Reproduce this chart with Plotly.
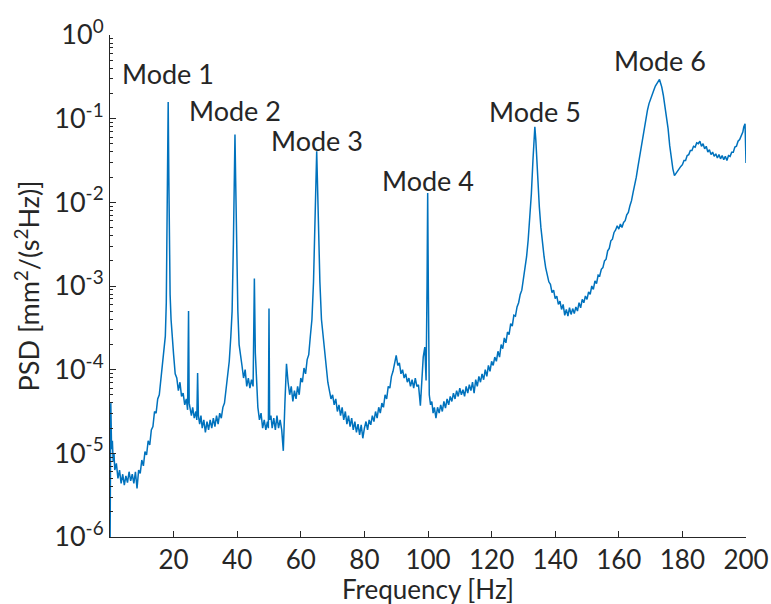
import numpy as np
import plotly.graph_objects as go

# Frequency samples (Hz)
freq_hz = [
    0.0, 0.25, 0.5, 0.75, 1.0, 1.25, 1.5, 2.0, 2.5, 3.0,
    3.5, 4.0, 4.5, 5.0, 5.5, 6.0, 6.5, 7.0, 7.5, 8.0,
    8.5, 9.0, 9.5, 10.0, 10.5, 11.0, 11.5, 12.0, 12.5, 13.0,
    13.5, 14.0, 14.5, 15.0, 15.5, 16.0, 16.5, 17.0, 17.4, 17.7,
    17.9, 18.1, 18.3, 18.5, 18.7, 18.9, 19.2, 19.5, 20.0, 20.5,
    21.0, 21.5, 22.0, 22.5, 23.0, 23.5, 24.0, 24.4, 24.7, 24.9,
    25.2, 25.6, 26.0, 26.5, 27.0, 27.3, 27.55, 27.8, 28.2, 28.6,
    29.0, 29.5, 30.0, 30.5, 31.0, 31.5, 32.0, 32.5, 33.0, 33.5,
    34.0, 34.5, 35.0, 35.5, 36.0, 36.5, 37.0, 37.5, 38.0, 38.4,
    38.8, 39.1, 39.3, 39.5, 39.8, 40.2, 40.6, 41.0, 41.5, 42.0,
    42.5, 43.0, 43.5, 44.0, 44.5, 45.0, 45.4, 45.7, 46.0, 46.5,
    47.0, 47.5, 48.0, 48.5, 49.0, 49.5, 49.8, 50.0, 50.2, 50.6,
    51.0, 51.5, 52.0, 52.5, 53.0, 53.5, 54.0, 54.5, 55.0, 55.5,
    56.0, 56.5, 57.0, 57.5, 58.0, 58.5, 59.0, 59.5, 60.0, 60.5,
    61.0, 61.5, 62.0, 62.5, 63.0, 63.5, 64.0, 64.4, 64.8, 65.0,
    65.2, 65.6, 66.0, 66.5, 67.0, 67.5, 68.0, 68.5, 69.0, 69.5,
    70.0, 70.5, 71.0, 71.5, 72.0, 72.5, 73.0, 73.5, 74.0, 74.5,
    75.0, 75.5, 76.0, 76.5, 77.0, 77.5, 78.0, 78.5, 79.0, 79.5,
    80.0, 80.5, 81.0, 81.5, 82.0, 82.5, 83.0, 83.5, 84.0, 84.5,
    85.0, 85.5, 86.0, 86.5, 87.0, 87.5, 88.0, 88.5, 89.0, 89.5,
    90.0, 90.5, 91.0, 91.5, 92.0, 92.5, 93.0, 93.5, 94.0, 94.5,
    95.0, 95.5, 96.0, 96.5, 97.0, 97.6, 98.0, 98.5, 99.0, 99.4,
    99.7, 99.9, 100.1, 100.4, 100.8, 101.2, 101.6, 102.0, 102.5, 103.0,
    103.5, 104.0, 104.5, 105.0, 105.5, 106.0, 106.5, 107.0, 107.5, 108.0,
    108.5, 109.0, 109.5, 110.0, 110.5, 111.0, 111.5, 112.0, 112.5, 113.0,
    113.5, 114.0, 114.5, 115.0, 115.5, 116.0, 116.5, 117.0, 117.5, 118.0,
    118.5, 119.0, 119.5, 120.0, 120.5, 121.0, 121.5, 122.0, 122.5, 123.0,
    123.5, 124.0, 124.5, 125.0, 125.5, 126.0, 126.5, 127.0, 127.5, 128.0,
    128.5, 129.0, 129.5, 130.0, 130.5, 131.0, 131.5, 132.0, 132.5, 133.0,
    133.3, 133.6, 133.9, 134.2, 134.6, 135.0, 135.5, 136.0, 136.5, 137.0,
    137.5, 138.0, 138.5, 139.0, 139.5, 140.0, 140.5, 141.0, 141.5, 142.0,
    142.5, 143.0, 143.5, 144.0, 144.5, 145.0, 145.5, 146.0, 146.5, 147.0,
    147.5, 148.0, 148.5, 149.0, 149.5, 150.0, 150.5, 151.0, 151.5, 152.0,
    152.5, 153.0, 153.5, 154.0, 154.5, 155.0, 155.5, 156.0, 156.5, 157.0,
    157.5, 158.0, 158.5, 159.0, 159.5, 160.0, 160.5, 161.0, 161.5, 162.0,
    162.5, 163.0, 163.5, 164.0, 164.5, 165.0, 165.5, 166.0, 166.5, 167.0,
    167.5, 168.0, 168.5, 169.0, 169.5, 170.0, 170.5, 171.0, 171.5, 172.0,
    172.5, 172.8, 173.1, 173.5, 174.0, 174.5, 175.0, 175.5, 176.0, 176.5,
    177.0, 177.5, 178.0, 178.5, 179.0, 179.5, 180.0, 180.5, 181.0, 181.5,
    182.0, 182.5, 183.0, 183.5, 184.0, 184.5, 185.0, 185.5, 186.0, 186.5,
    187.0, 187.5, 188.0, 188.5, 189.0, 189.5, 190.0, 190.5, 191.0, 191.5,
    192.0, 192.5, 193.0, 193.5, 194.0, 194.5, 195.0, 195.5, 196.0, 196.5,
    197.0, 197.5, 198.0, 198.5, 199.0, 199.3, 199.7, 200.0,
]

# PSD, as powers of ten (log10 of mm^2/(s^2 Hz))
psd_log10 = [
    -6.3, -4.4, -4.95, -4.85, -5.1, -5.0, -5.2, -5.12, -5.3, -5.2,
    -5.36, -5.25, -5.38, -5.27, -5.35, -5.22, -5.33, -5.25, -5.36, -5.22,
    -5.42, -5.2, -5.24, -5.08, -5.15, -4.98, -5.02, -4.85, -4.9, -4.72,
    -4.68, -4.5, -4.52, -4.35, -4.3, -4.1, -3.95, -3.78, -3.6, -3.2,
    -2.6, -1.7, -0.8, -1.7, -2.6, -3.1, -3.4, -3.6, -3.82, -4.05,
    -4.1, -4.25, -4.15, -4.32, -4.28, -4.42, -4.35, -4.48, -3.3, -4.4,
    -4.45, -4.55, -4.45, -4.58, -4.5, -4.6, -4.04, -4.55, -4.65, -4.55,
    -4.7, -4.6, -4.75, -4.62, -4.72, -4.6, -4.7, -4.58, -4.68, -4.55,
    -4.65, -4.52, -4.58, -4.45, -4.4, -4.25, -4.1, -3.9, -3.6, -3.3,
    -2.5, -1.7, -1.19, -1.7, -2.5, -3.3, -3.7, -3.85, -3.95, -4.1,
    -4.0, -4.2, -4.1, -4.22, -4.12, -4.2, -2.91, -3.8, -4.1, -4.45,
    -4.6, -4.52, -4.7, -4.6, -4.72, -4.62, -4.7, -3.27, -4.6, -4.55,
    -4.7, -4.58, -4.72, -4.55, -4.7, -4.6, -4.72, -4.97, -4.4, -3.93,
    -4.15, -4.3, -4.2, -4.38, -4.25, -4.35, -4.2, -4.3, -4.1, -4.15,
    -3.98, -4.05, -3.88, -3.82, -3.6, -3.4, -2.95, -2.3, -1.7, -1.39,
    -1.7, -2.4, -2.95, -3.4, -3.6, -3.8, -3.95, -4.15, -4.25, -4.35,
    -4.3, -4.42, -4.35, -4.5, -4.42, -4.55, -4.45, -4.6, -4.5, -4.65,
    -4.55, -4.68, -4.58, -4.72, -4.62, -4.75, -4.65, -4.78, -4.66, -4.82,
    -4.7, -4.62, -4.72, -4.6, -4.66, -4.55, -4.62, -4.5, -4.58, -4.45,
    -4.52, -4.4, -4.45, -4.3, -4.35, -4.2, -4.22, -4.08, -4.02, -3.9,
    -3.83, -3.95, -3.92, -4.05, -4.0, -4.1, -4.05, -4.15, -4.1, -4.2,
    -4.12, -4.22, -4.1, -4.2, -4.18, -4.43, -4.1, -3.85, -3.73, -4.13,
    -3.0, -1.89, -3.0, -4.3, -4.42, -4.38, -4.52, -4.45, -4.58, -4.45,
    -4.52, -4.42, -4.5, -4.38, -4.46, -4.35, -4.42, -4.32, -4.38, -4.28,
    -4.35, -4.25, -4.32, -4.22, -4.3, -4.24, -4.32, -4.2, -4.28, -4.18,
    -4.25, -4.15, -4.28, -4.12, -4.2, -4.08, -4.15, -4.05, -4.12, -4.0,
    -4.08, -3.95, -4.02, -3.9, -3.95, -3.85, -3.9, -3.78, -3.85, -3.7,
    -3.75, -3.62, -3.68, -3.55, -3.58, -3.45, -3.48, -3.35, -3.36, -3.25,
    -3.2, -3.1, -3.05, -2.92, -2.8, -2.65, -2.45, -2.2, -1.9, -1.5,
    -1.25, -1.097, -1.25, -1.5, -1.8, -2.05, -2.3, -2.5, -2.65, -2.78,
    -2.85, -2.95, -2.98, -3.08, -3.05, -3.15, -3.12, -3.22, -3.18, -3.28,
    -3.22, -3.35, -3.28, -3.36, -3.26, -3.34, -3.27, -3.33, -3.25, -3.3,
    -3.2, -3.26, -3.16, -3.2, -3.12, -3.16, -3.07, -3.1, -3.0, -3.04,
    -2.94, -2.97, -2.87, -2.88, -2.8, -2.78, -2.7, -2.68, -2.58, -2.55,
    -2.46, -2.44, -2.36, -2.33, -2.28, -2.32, -2.26, -2.3, -2.24, -2.22,
    -2.15, -2.12, -2.04, -1.98, -1.88, -1.8, -1.7, -1.58, -1.46, -1.35,
    -1.22, -1.1, -1.0, -0.9, -0.82, -0.76, -0.7, -0.66, -0.61, -0.58,
    -0.55, -0.53, -0.57, -0.62, -0.72, -0.85, -1.0, -1.12, -1.32, -1.5,
    -1.6, -1.68, -1.65, -1.63, -1.6, -1.57, -1.55, -1.5, -1.5, -1.44,
    -1.43, -1.38, -1.38, -1.33, -1.34, -1.29, -1.3, -1.27, -1.33, -1.3,
    -1.36, -1.33, -1.4, -1.37, -1.43, -1.4, -1.45, -1.42, -1.47, -1.43,
    -1.48, -1.44, -1.49, -1.45, -1.5, -1.44, -1.45, -1.4, -1.4, -1.34,
    -1.33, -1.27, -1.25, -1.2, -1.16, -1.1, -1.06, -1.53,
]

# Mode labels and the frequency of each labelled peak
mode_labels = ["Mode 1", "Mode 2", "Mode 3", "Mode 4", "Mode 5", "Mode 6"]
mode_freq_hz = [18.3, 39.3, 65.0, 99.9, 133.6, 172.8]

# Axis ticks
x_tick_vals = [20, 40, 60, 80, 100, 120, 140, 160, 180, 200]
x_tick_text = ["20", "40", "60", "80", "100", "120", "140", "160", "180", "200"]
y_tick_exponents = [-6, -5, -4, -3, -2, -1, 0]
y_tick_text = ["10<sup>-6</sup>", "10<sup>-5</sup>", "10<sup>-4</sup>", "10<sup>-3</sup>",
               "10<sup>-2</sup>", "10<sup>-1</sup>", "10<sup>0</sup>"]
x_title = "Frequency [Hz]"
y_title = "PSD [mm<sup>2</sup>/(s<sup>2</sup>Hz)]"

psd = np.power(10.0, np.array(psd_log10))
y_tick_vals = [10.0 ** e for e in y_tick_exponents]
y_minor_vals = [m * 10.0 ** e for e in y_tick_exponents[:-1] for m in range(2, 10)]

TXT = "#262626"
FONT = "Lato"

fig = go.Figure()
fig.add_trace(go.Scatter(
    x=freq_hz, y=psd, mode="lines",
    line=dict(color="#0072BD", width=1.5),
    showlegend=False, hoverinfo="x+y",
))

# label placement (log10 y of label centre) - layout, not data
label_y_log = [-0.455, -0.897, -1.256, -1.734, -0.909, -0.299]
for lab, fx, ly in zip(mode_labels, mode_freq_hz, label_y_log):
    fig.add_annotation(x=fx, y=ly, text=lab, showarrow=False,
                       xanchor="center", yanchor="middle",
                       font=dict(family=FONT, size=27, color=TXT))

# x-axis title placed under the tick labels
fig.add_annotation(x=0.5, y=0, xref="paper", yref="paper", text=x_title,
                   showarrow=False, xanchor="center", yanchor="bottom", yshift=-69,
                   borderpad=0,
                   font=dict(family=FONT, size=26, color=TXT))

fig.update_layout(
    width=771, height=604,
    margin=dict(l=110, r=25, t=35, b=67, autoexpand=False),
    plot_bgcolor="white", paper_bgcolor="white",
    font=dict(family=FONT, size=27, color=TXT),
)
fig.update_xaxes(
    range=[0, 200], tickmode="array", tickvals=x_tick_vals, ticktext=x_tick_text,
    ticks="inside", ticklen=6, tickwidth=1, tickcolor=TXT,
    showline=True, linecolor=TXT, linewidth=1, mirror=False,
    showgrid=False, zeroline=False, automargin=False,
    tickfont=dict(family=FONT, size=26, color=TXT),
)
fig.update_yaxes(
    type="log", range=[-6, 0], tickmode="array", tickvals=y_tick_vals, ticktext=y_tick_text,
    ticks="inside", ticklen=6, tickwidth=1, tickcolor=TXT,
    minor=dict(tickmode="array", tickvals=y_minor_vals, ticks="inside", ticklen=3,
               tickcolor=TXT, showgrid=False),
    showline=True, linecolor=TXT, linewidth=1, mirror=False,
    showgrid=False, zeroline=False, automargin=False,
    tickfont=dict(family=FONT, size=27, color=TXT),
    title=dict(text=y_title, font=dict(family=FONT, size=27, color=TXT), standoff=6),
)

fig.write_html("out.html")
